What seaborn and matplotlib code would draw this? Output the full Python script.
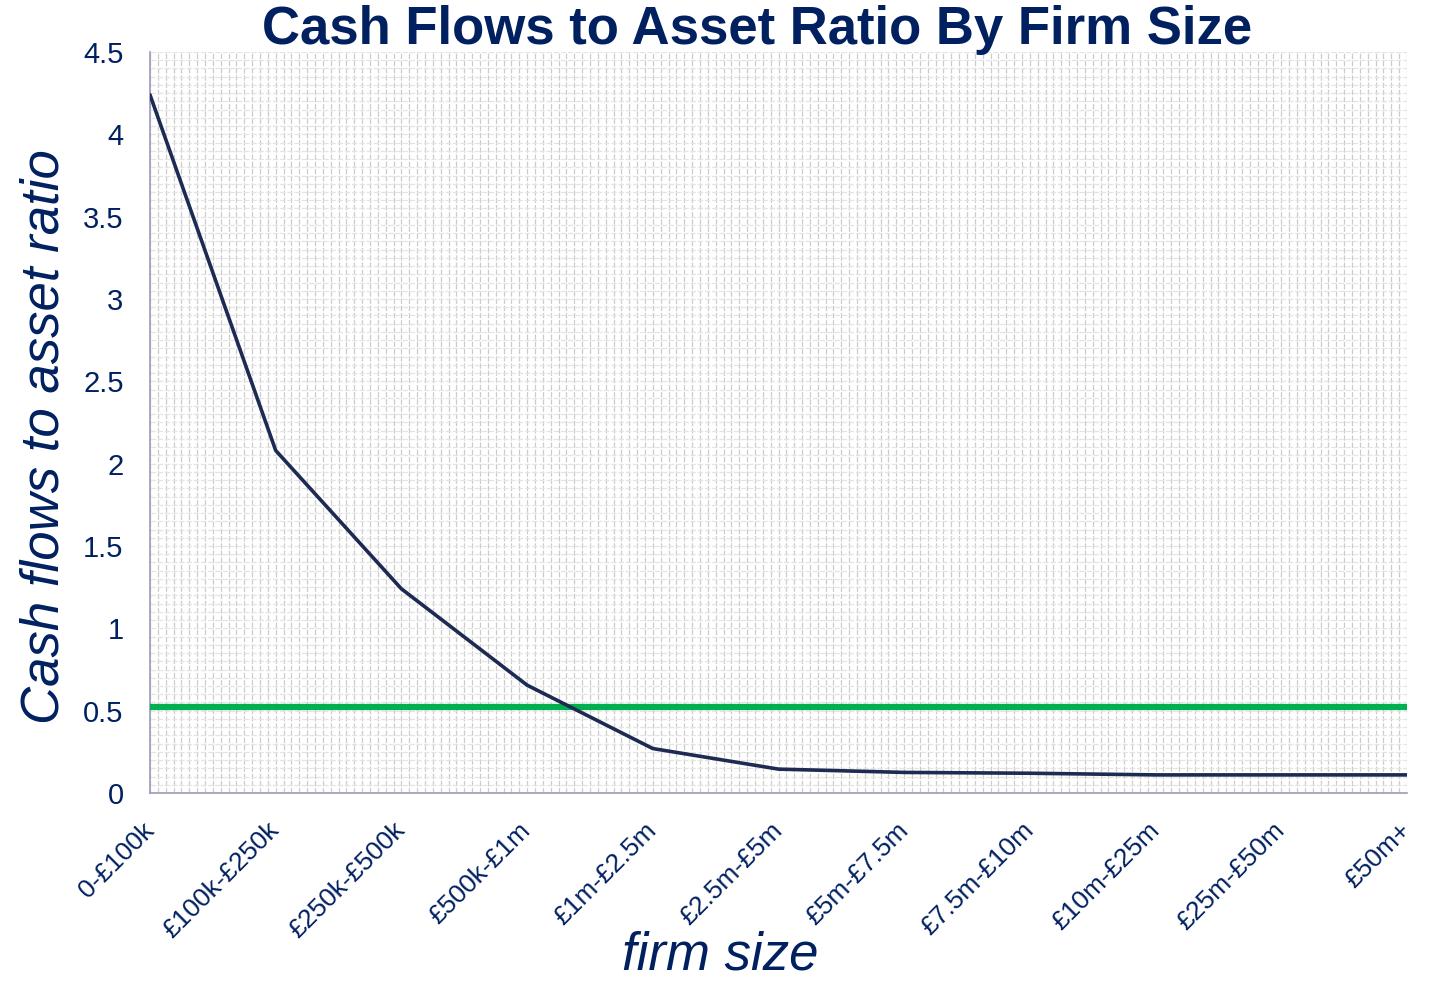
import matplotlib
matplotlib.use("Agg")
import matplotlib.pyplot as plt
from matplotlib.ticker import MultipleLocator
import seaborn as sns
import pandas as pd

firm_sizes = ["0-£100k", "£100k-£250k", "£250k-£500k", "£500k-£1m", "£1m-£2.5m",
              "£2.5m-£5m", "£5m-£7.5m", "£7.5m-£10m", "£10m-£25m", "£25m-£50m", "£50m+"]
cash_flow_ratio = [4.24, 2.08, 1.24, 0.655, 0.27, 0.145, 0.125, 0.12, 0.11, 0.11, 0.11]
benchmark = 0.52
y_ticks = [0, 0.5, 1, 1.5, 2, 2.5, 3, 3.5, 4, 4.5]

NAVY_TEXT = "#002060"
LINE_NAVY = "#1d2a52"
GREEN = "#00b050"

sns.set_theme(style="white")
plt.rcParams["font.family"] = ["Liberation Sans", "DejaVu Sans"]

df = pd.DataFrame({"firm size": firm_sizes, "ratio": cash_flow_ratio})
df["benchmark"] = benchmark

fig = plt.figure(figsize=(14.29, 9.81), dpi=100)
ax = fig.add_axes([150 / 1429, 1 - 793 / 981, (1407 - 150) / 1429, (793 - 52) / 981])

pos = list(range(len(firm_sizes)))
sns.lineplot(x=pos, y=df["benchmark"], ax=ax, color=GREEN, linewidth=4.5,
             solid_capstyle="butt", zorder=3)
sns.lineplot(x=pos, y=df["ratio"], ax=ax, color=LINE_NAVY, linewidth=2.6, zorder=4)

ax.set_xlim(0, len(firm_sizes) - 1)
ax.set_ylim(0, 4.5)
ax.set_xticks(pos)
ax.set_xticklabels(firm_sizes, rotation=45, ha="right", va="center",
                   rotation_mode="anchor", fontsize=19, color=NAVY_TEXT)
ax.set_yticks(y_ticks)
ax.set_yticklabels([f"{t:g}" for t in y_ticks], fontsize=21, color=NAVY_TEXT)
ax.tick_params(axis="x", pad=24, length=0)
ax.tick_params(axis="y", pad=19, length=0)

# fine dashed background grid
ax.xaxis.set_minor_locator(MultipleLocator(1 / 16))
ax.yaxis.set_minor_locator(MultipleLocator(0.05))
ax.grid(which="both", axis="x", color="#cccccc", linestyle=(0, (4.3, 1.46)), linewidth=0.9)
ax.grid(which="both", axis="y", color="#e4e4e4", linestyle=(0, (4.3, 1.46)), linewidth=0.9)
ax.tick_params(which="minor", length=0)
ax.set_axisbelow(True)

for side in ["top", "right"]:
    ax.spines[side].set_visible(False)
for side in ["left", "bottom"]:
    ax.spines[side].set_color("#9a9cb8")
    ax.spines[side].set_linewidth(1.2)

ax.set_xlabel("firm size", fontsize=38, style="italic", color=NAVY_TEXT)
ax.xaxis.set_label_coords((720 - 150) / (1407 - 150), -(970 - 793) / (793 - 52))
ax.xaxis.label.set_va("baseline")
ax.set_ylabel("Cash flows to asset ratio", fontsize=38, style="italic", color=NAVY_TEXT)
ax.yaxis.set_label_coords(-(150 - 45) / (1407 - 150), (793 - 437) / (793 - 52))
ax.yaxis.label.set_va("center")
fig.text(757 / 1429, 1 - 30 / 981, "Cash Flows to Asset Ratio By Firm Size",
         ha="center", va="center", fontsize=38, fontweight="bold", color=NAVY_TEXT)

fig.savefig("out.png", dpi=100)
